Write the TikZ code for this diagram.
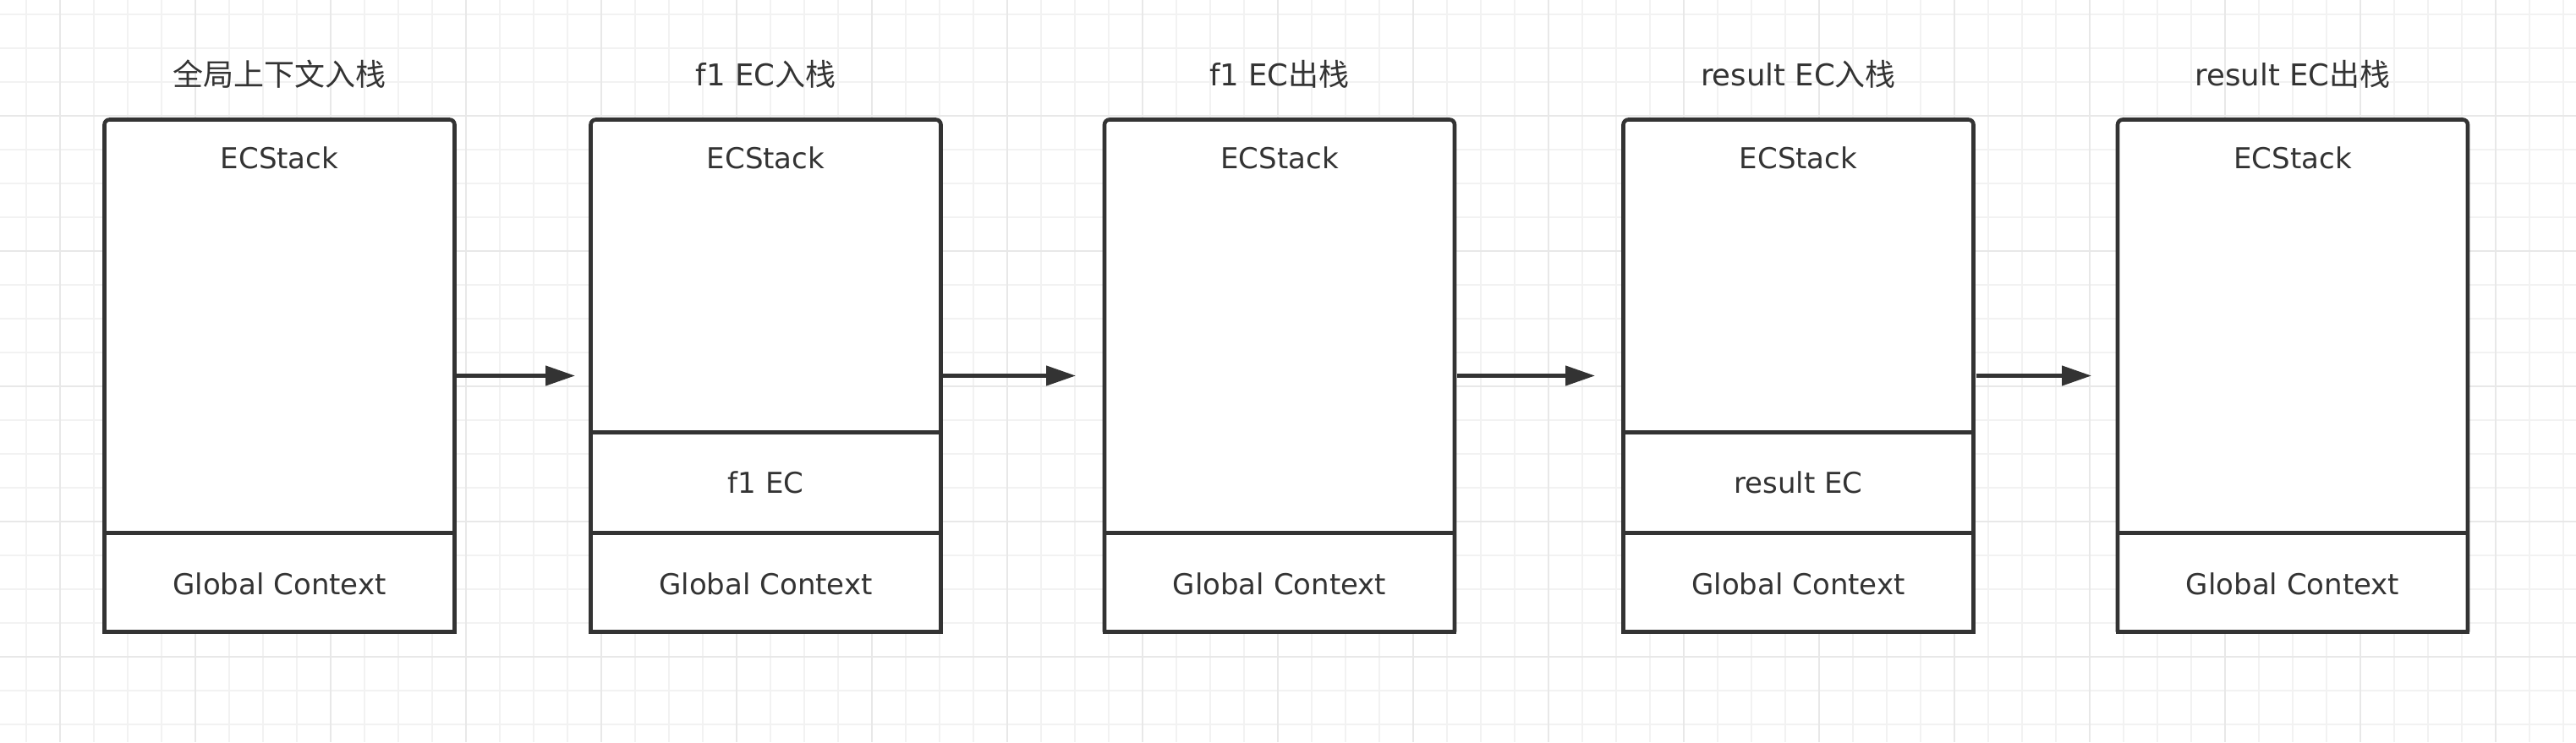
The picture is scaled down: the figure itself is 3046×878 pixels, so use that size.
\documentclass[tikz,border=0pt]{standalone}
\usepackage{fontspec}
\setmainfont{DejaVu Sans}
\newfontfamily\cjk{Noto Sans CJK SC}
\usetikzlibrary{arrows.meta}
\definecolor{ink}{HTML}{333333}
\definecolor{gridminor}{HTML}{F2F2F2}
\definecolor{gridmajor}{HTML}{E8E8E8}
\tikzset{
  boxarea/.style={minimum width=414pt, minimum height=606pt, inner sep=0pt, outer sep=0pt},
  outline/.style={draw=ink, line width=4.6pt, fill=white, rounded corners=6pt},
  cell/.style={draw=ink, line width=4.6pt, minimum width=414pt, inner sep=0pt, outer sep=0pt},
  txt/.style={text=ink, font=\fontsize{34}{40}\selectfont, inner sep=0pt, anchor=base},
  ttl/.style={text=ink, font=\fontsize{35.5}{40}\selectfont, inner sep=0pt, anchor=base},
  arr/.style={draw=ink, line width=4.4pt, -{Triangle[length=35pt,width=23pt]}},
  gminor/.style={draw=gridminor, line width=1.6pt},
  gmajor/.style={draw=gridmajor, line width=1.8pt},
}
\newcommand{\cj}[1]{{\cjk\fontsize{36}{40}\selectfont #1}}
\begin{document}
\begin{tikzpicture}[x=1pt,y=-1pt]
\useasboundingbox (0,0) rectangle (3046,878);
\fill[white] (0,0) rectangle (3046,878);
% grid
\foreach \i in {0,...,75} \draw[gminor] ({31+40*\i},0) -- ({31+40*\i},878);
\foreach \j in {0,...,21} \draw[gminor] (0,{16.7+40*\j}) -- (3046,{16.7+40*\j});
\foreach \i in {0,...,18} \draw[gmajor] ({71+160*\i},0) -- ({71+160*\i},878);
\foreach \j in {0,...,4} \draw[gmajor] (0,{136.7+160*\j}) -- (3046,{136.7+160*\j});

% box areas
\node[boxarea] (b1) at (330.5,444.5) {};
\node[boxarea] (b2) at (905.5,444.5) {};
\node[boxarea] (b3) at (1513,444.5) {};
\node[boxarea] (b4) at (2126.5,444.5) {};
\node[boxarea] (b5) at (2711,444.5) {};

\foreach \b in {b1,b2,b3,b4,b5}
  \path[outline] (\b.south east) -- (\b.north east) -- (\b.north west) -- (\b.south west);

% global context cells
\node[cell, minimum height=117pt] (g1) at (330.5,689) {};
\node[cell, minimum height=117pt] (g2) at (905.5,689) {};
\node[cell, minimum height=117pt] (g3) at (1513,689) {};
\node[cell, minimum height=117pt] (g4) at (2126.5,689) {};
\node[cell, minimum height=117pt] (g5) at (2711,689) {};

% pushed EC cells
\node[cell, minimum height=119pt] (m2) at (905.5,571) {};
\node[cell, minimum height=119pt] (m4) at (2126.5,571) {};

% titles
\node[ttl] (t1) at (330.5,101.7) {\cj{全局上下文入栈}};
\node[ttl] (t2) at (905.5,101.7) {f1 EC\cj{入栈}};
\node[ttl] (t3) at (1513,101.7) {f1 EC\cj{出栈}};
\node[ttl] (t4) at (2126.5,101.7) {result EC\cj{入栈}};
\node[ttl] (t5) at (2711,101.7) {result EC\cj{出栈}};

% ECStack labels
\node[txt] (s1) at (330.5,199.2) {ECStack};
\node[txt] (s2) at (905.5,199.2) {ECStack};
\node[txt] (s3) at (1513,199.2) {ECStack};
\node[txt] (s4) at (2126.5,199.2) {ECStack};
\node[txt] (s5) at (2711,199.2) {ECStack};

% cell labels
\node[txt] (l2) at (905.5,583.3) {f1 EC};
\node[txt] (l4) at (2126.5,583.3) {result EC};
\node[txt] (c1) at (330.5,703.3) {Global Context};
\node[txt] (c2) at (905.5,703.3) {Global Context};
\node[txt] (c3) at (1513,703.3) {Global Context};
\node[txt] (c4) at (2126.5,703.3) {Global Context};
\node[txt] (c5) at (2711,703.3) {Global Context};

% arrows
\draw[arr, shorten <=2.5pt, shorten >=18.5pt] (b1.east) -- (b2.west);
\draw[arr, shorten <=2.5pt, shorten >=34pt] (b2.east) -- (b3.west);
\draw[arr, shorten <=2.5pt, shorten >=33.5pt] (b3.east) -- (b4.west);
\draw[arr, shorten <=3pt, shorten >=31pt] (b4.east) -- (b5.west);
\end{tikzpicture}
\end{document}
